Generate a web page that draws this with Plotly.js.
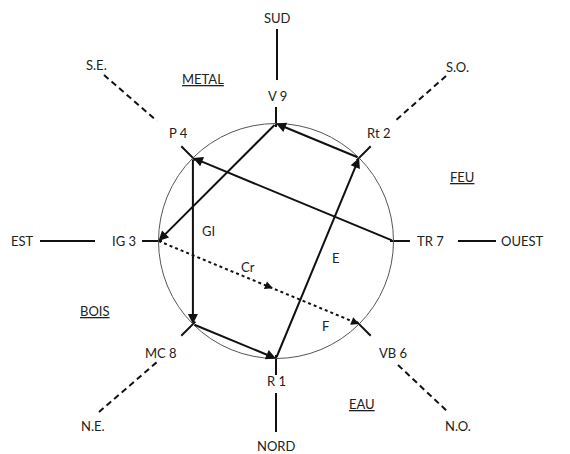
<!DOCTYPE html>
<html><head><meta charset="utf-8">
<script src="https://cdn.plot.ly/plotly-3.0.1.min.js"></script>
<style>html,body{margin:0;padding:0;background:#fff}</style>
</head><body><div id="chart" style="width:570px;height:454px"></div>
<script>
// ---- data ----
const nodeLabels = ['V 9', 'Rt 2', 'TR 7', 'VB 6', 'R 1', 'MC 8', 'IG 3', 'P 4'];
const nodeAngles = [90, 45, 0, -45, -90, -135, 180, 135];
const edgeFrom = ['R 1', 'Rt 2', 'V 9', 'TR 7', 'P 4', 'MC 8'];
const edgeTo   = ['Rt 2', 'V 9', 'IG 3', 'P 4', 'MC 8', 'R 1'];
const flowFrom = ['IG 3'];
const flowTo   = ['VB 6'];
const innerLabels = ['GI', 'Cr', 'E', 'F'];
const compassLabels = ['SUD', 'S.O.', 'OUEST', 'N.O.', 'NORD', 'N.E.', 'EST', 'S.E.'];
const compassDashed = [false, true, false, true, false, true, false, true];
const elementLabels = ['METAL', 'FEU', 'EAU', 'BOIS'];

// ---- geometry / layout ----
const R = 117.5, CX = 276, CY = 241, W = 570, H = 454;
const X = p => (p - CX) / R;
const Y = p => (CY - p) / R;
const node = {};
nodeLabels.forEach((n, i) => {
  const a = nodeAngles[i] * Math.PI / 180;
  node[n] = {x: Math.cos(a), y: Math.sin(a), a: a};
});
const nodeLabelPos = {'V 9':[277,96], 'Rt 2':[378,133], 'TR 7':[430,241], 'VB 6':[393,353],
  'R 1':[276,381], 'MC 8':[161,353], 'IG 3':[124,241], 'P 4':[178,133]};
const compassLabelPos = [[277,18],[457,67],[522,241],[458,426],[276,446],[93,426],[22,241],[96,65]];
const compassSeg = [[[277,29],[277,80]], [[446,76],[395,121]], [[458,241],[496,241]], [[398,365],[448,412]],
  [[276,393],[276,432]], [[99,412],[157,362]], [[40,241],[95,241]], [[104,75],[157,121]]];
const elementPos = [[203,79],[462,177],[362,404],[95,311]];
const innerPos = [[208,231],[248,267],[336,258],[325,326]];

const font = {family: 'Lato, "Open Sans", sans-serif', size: 13, color: '#222'};
const traces = [];
const annotations = [];

// ticks at nodes
const tx = [], ty = [];
nodeLabels.forEach(n => {
  const p = node[n];
  tx.push(p.x * 0.97, p.x * 1.14, null);
  ty.push(p.y * 0.97, p.y * 1.14, null);
});
traces.push({x: tx, y: ty, mode: 'lines', line: {color: '#111', width: 2}, hoverinfo: 'skip'});

// compass lines
const sx = [], sy = [], dx = [], dy = [];
compassSeg.forEach((s, i) => {
  const tgtx = compassDashed[i] ? dx : sx, tgty = compassDashed[i] ? dy : sy;
  tgtx.push(X(s[0][0]), X(s[1][0]), null);
  tgty.push(Y(s[0][1]), Y(s[1][1]), null);
});
traces.push({x: sx, y: sy, mode: 'lines', line: {color: '#111', width: 2}, hoverinfo: 'skip'});
traces.push({x: dx, y: dy, mode: 'lines', line: {color: '#111', width: 2, dash: '6px,4px'}, hoverinfo: 'skip'});

// dotted flow
flowFrom.forEach((f, i) => {
  const a = node[f], b = node[flowTo[i]];
  traces.push({x: [a.x, b.x], y: [a.y, b.y], mode: 'lines', line: {color: '#111', width: 2, dash: 'dot'}, hoverinfo: 'skip'});
  [0.57, 1.0].forEach(t => {
    const px = a.x + (b.x - a.x) * t, py = a.y + (b.y - a.y) * t;
    annotations.push({x: px, y: py, ax: px - (b.x - a.x) * 0.03, ay: py - (b.y - a.y) * 0.03,
      xref: 'x', yref: 'y', axref: 'x', ayref: 'y', text: '', showarrow: true,
      arrowhead: 2, arrowsize: 1, arrowwidth: 1.6, arrowcolor: '#111', standoff: 0});
  });
});

// solid arrows
edgeFrom.forEach((f, i) => {
  const a = node[f], b = node[edgeTo[i]];
  annotations.push({x: b.x, y: b.y, ax: a.x, ay: a.y, xref: 'x', yref: 'y', axref: 'x', ayref: 'y',
    text: '', showarrow: true, arrowhead: 2, arrowsize: 1, arrowwidth: 2, arrowcolor: '#111', standoff: 0});
});

// labels
const addText = (t, p) => annotations.push({x: X(p[0]), y: Y(p[1]), xref: 'x', yref: 'y', text: t,
  showarrow: false, font: font, xanchor: 'center', yanchor: 'middle'});
nodeLabels.forEach(n => addText(n, nodeLabelPos[n]));
compassLabels.forEach((t, i) => addText(t, compassLabelPos[i]));
elementLabels.forEach((t, i) => addText('<u>' + t + '</u>', elementPos[i]));
innerLabels.forEach((t, i) => addText(t, innerPos[i]));

const layout = {
  width: W, height: H, autosize: false,
  margin: {l: 0, r: 0, t: 0, b: 0},
  paper_bgcolor: '#fff', plot_bgcolor: '#fff',
  showlegend: false,
  xaxis: {range: [X(0), X(W)], visible: false, fixedrange: true},
  yaxis: {range: [Y(H), Y(0)], visible: false, fixedrange: true},
  shapes: [{type: 'circle', xref: 'x', yref: 'y', x0: -1, y0: -1, x1: 1, y1: 1,
    line: {color: '#555', width: 1}}],
  annotations: annotations,
  font: font
};
Plotly.newPlot('chart', traces, layout, {staticPlot: true, displayModeBar: false});
</script></body></html>
